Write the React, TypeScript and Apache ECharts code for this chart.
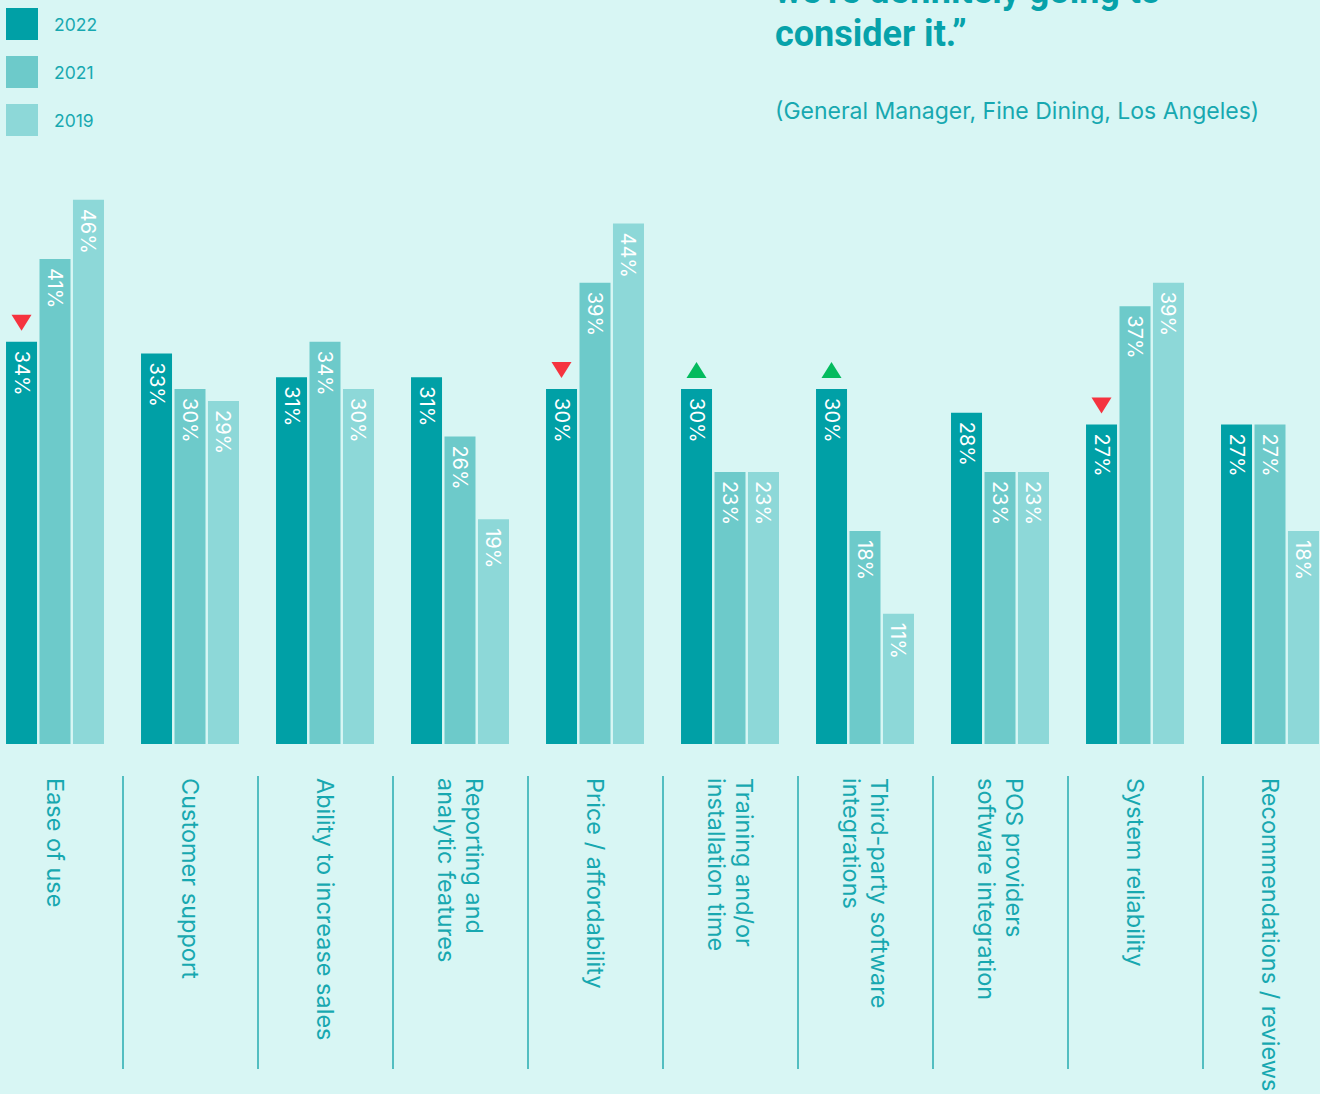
import React, { useEffect, useRef } from "react";
import * as echarts from "echarts";

const categories = [
  "Ease of use",
  "Customer support",
  "Ability to increase sales",
  "Reporting and\nanalytic features",
  "Price / affordability",
  "Training and/or\ninstallation time",
  "Third-party software\nintegrations",
  "POS providers\nsoftware integration",
  "System reliability",
  "Recommendations / reviews",
];
const seriesNames = ["2022", "2021", "2019"];
const values2022 = [34, 33, 31, 31, 30, 30, 30, 28, 27, 27];
const values2021 = [41, 30, 34, 26, 39, 23, 18, 23, 37, 27];
const values2019 = [46, 29, 30, 19, 44, 23, 11, 23, 39, 18];
// change vs previous year for 2022 bars
const changes2022: (string | null)[] = ["down", null, null, null, "down", "up", "up", null, "down", null];

const quoteText = "we\u2019re definitely going to\nconsider it.\u201d";
const quoteSource = "(General Manager, Fine Dining, Los Angeles)";

const BG = "#d8f6f4";
const TEAL_TEXT = "#17a8b0";
const COLORS = ["#00a0a6", "#6dcaca", "#8dd8d8"];
const FONT = "Inter, Roboto, 'Noto Sans', sans-serif";
const BOLD_FONT = "Roboto, 'Noto Sans', sans-serif";

export default function App() {
  const ref = useRef<HTMLDivElement>(null);
  useEffect(() => {
    if (!ref.current) return;
    const chart = echarts.init(ref.current, null, { renderer: "svg" });
    const allValues = [values2022, values2021, values2019];
    const markData = changes2022
      .map((c, i) =>
        c
          ? {
              coord: [categories[i], values2022[i]],
              symbol: "triangle",
              symbolRotate: c === "down" ? 180 : 0,
              itemStyle: { color: c === "down" ? "#f5333f" : "#03bb5e" },
            }
          : null
      )
      .filter(Boolean);

    chart.setOption({
      animation: false,
      backgroundColor: BG,
      textStyle: { fontFamily: FONT },
      legend: {
        data: seriesNames,
        orient: "vertical",
        left: 6,
        top: 8,
        padding: 0,
        itemWidth: 32,
        itemHeight: 32,
        itemGap: 16,
        icon: "rect",
        selectedMode: false,
        textStyle: { color: TEAL_TEXT, fontSize: 17.5, fontFamily: FONT, padding: [0, 0, 0, 11] },
      },
      graphic: [
        {
          type: "text",
          x: 775,
          y: -31,
          style: {
            text: quoteText,
            font: `bold 36px ${BOLD_FONT}`,
            fill: "#06a2aa",
            lineHeight: 43,
            textVerticalAlign: "top",
          },
        },
        {
          type: "text",
          x: 775,
          y: 99,
          style: {
            text: quoteSource,
            font: `23px ${FONT}`,
            fill: TEAL_TEXT,
            textVerticalAlign: "top",
          },
        },
      ],
      grid: [
        { left: -12.5, width: 1350, top: 152.5, bottom: 350, outerBoundsMode: "none", containLabel: false },
        { left: -12.5, width: 1350, top: 776, height: 293, outerBoundsMode: "none", containLabel: false },
      ],
      xAxis: [
        {
          type: "category",
          gridIndex: 0,
          data: categories,
          axisLine: { show: false },
          axisTick: { show: false },
          axisLabel: {
            interval: 0,
            rotate: -90,
            margin: 34,
            color: TEAL_TEXT,
            fontSize: 23.5,
            lineHeight: 28,
            fontFamily: FONT,
            hideOverlap: false,
          },
        },
        {
          type: "category",
          gridIndex: 1,
          data: categories,
          axisLine: { show: false },
          axisTick: { show: false },
          axisLabel: { show: false },
          splitLine: { show: true, interval: 0, lineStyle: { color: "#27abb1", width: 1.5 } },
        },
      ],
      yAxis: [
        { type: "value", gridIndex: 0, min: 0, max: 50, show: false },
        { type: "value", gridIndex: 1, min: 0, max: 1, show: false },
      ],
      series: seriesNames.map((name, si) => ({
        name,
        type: "bar",
        xAxisIndex: 0,
        yAxisIndex: 0,
        data: allValues[si],
        barWidth: 31,
        barGap: "8%",
        itemStyle: { color: COLORS[si] },
        label: {
          show: true,
          position: "insideTop",
          distance: 9,
          rotate: -90,
          align: "left",
          verticalAlign: "middle",
          color: "#ffffff",
          fontSize: 20,
          fontFamily: FONT,
          formatter: "{c}%",
        },
        markPoint:
          si === 0
            ? {
                symbolSize: [20, 16],
                symbolOffset: [0, -19],
                label: { show: false },
                data: markData,
              }
            : undefined,
      })),
    });
    return () => chart.dispose();
  }, []);
  return (
    <div
      ref={ref}
      style={{ position: "absolute", left: 0, top: 0, width: 1320, height: 1094 }}
    />
  );
}
